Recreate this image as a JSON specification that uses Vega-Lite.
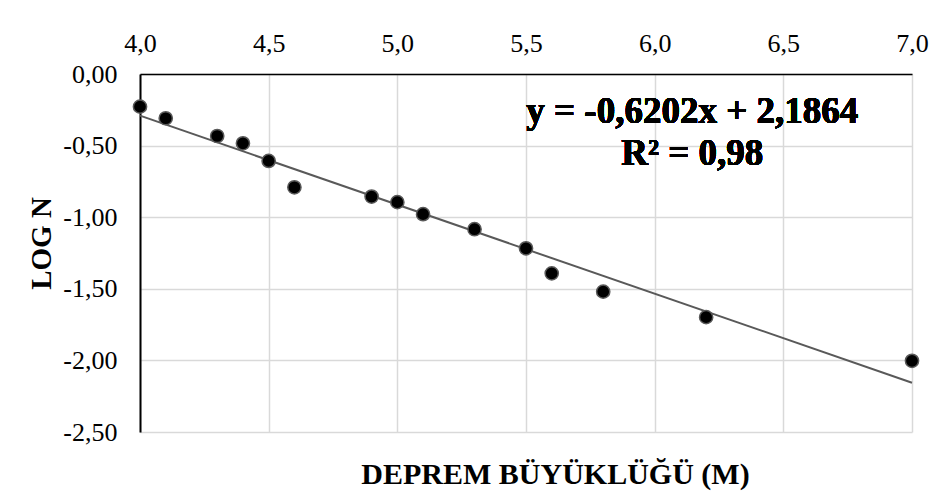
{
  "$schema": "https://vega.github.io/schema/vega-lite/v6.json",
  "width": 772,
  "height": 358,
  "autosize": {"type": "none"},
  "padding": {"left": 140, "top": 74, "right": 25, "bottom": 63},
  "background": "white",
  "config": {
    "locale": {"number": {"decimal": ",", "thousands": ".", "grouping": [3], "currency": ["", ""], "minus": "-"}},
    "view": {"stroke": null},
    "font": "Liberation Serif"
  },
  "data": {
    "values": [
      {"M": 4.0, "logN": -0.228},
      {"M": 4.1, "logN": -0.309},
      {"M": 4.3, "logN": -0.433},
      {"M": 4.4, "logN": -0.484},
      {"M": 4.5, "logN": -0.607},
      {"M": 4.6, "logN": -0.791},
      {"M": 4.9, "logN": -0.856},
      {"M": 5.0, "logN": -0.895},
      {"M": 5.1, "logN": -0.979},
      {"M": 5.3, "logN": -1.084},
      {"M": 5.5, "logN": -1.217},
      {"M": 5.6, "logN": -1.392},
      {"M": 5.8, "logN": -1.52},
      {"M": 6.2, "logN": -1.698},
      {"M": 7.0, "logN": -2.003}
    ]
  },
  "encoding": {
    "x": {
      "field": "M", "type": "quantitative",
      "scale": {"domain": [4, 7], "nice": false, "zero": false},
      "axis": {
        "orient": "top",
        "values": [4, 4.5, 5, 5.5, 6, 6.5, 7],
        "format": ".1f",
        "title": "DEPREM BÜYÜKLÜĞÜ (M)",
        "titleFont": "Liberation Serif",
        "titleFontSize": 30,
        "titleFontWeight": "bold",
        "titleColor": "black",
        "titleX": 415,
        "titleY": 409,
        "titleAlign": "center",
        "titleBaseline": "alphabetic",
        "titleAngle": 0,
        "labelFont": "Liberation Serif",
        "labelFontSize": 26,
        "labelColor": "black",
        "labelBaseline": "alphabetic",
        "labelPadding": 23,
        "labelFlush": false,
        "labelOverlap": false,
        "ticks": false,
        "tickSize": 0,
        "domainColor": "black",
        "domainWidth": 1.5,
        "grid": true,
        "gridColor": "#d9d9d9",
        "gridWidth": 1.5
      }
    },
    "y": {
      "field": "logN", "type": "quantitative",
      "scale": {"domain": [-2.5, 0], "nice": false, "zero": false},
      "axis": {
        "values": [0, -0.5, -1, -1.5, -2, -2.5],
        "format": ".2f",
        "title": "LOG N",
        "titleFont": "Liberation Serif",
        "titleFontSize": 29,
        "titleFontWeight": "bold",
        "titleColor": "black",
        "titleX": -99,
        "titleY": 169,
        "titleAngle": -90,
        "titleAlign": "center",
        "titleBaseline": "middle",
        "labelFont": "Liberation Serif",
        "labelFontSize": 26,
        "labelColor": "black",
        "labelBaseline": "middle",
        "labelPadding": 23,
        "labelFlush": false,
        "labelOverlap": false,
        "ticks": false,
        "tickSize": 0,
        "domainColor": "black",
        "domainWidth": 2,
        "grid": true,
        "gridColor": "#d9d9d9",
        "gridWidth": 1.5
      }
    }
  },
  "layer": [
    {
      "transform": [{"regression": "logN", "on": "M"}],
      "mark": {"type": "line", "color": "#595959", "strokeWidth": 2}
    },
    {
      "mark": {"type": "circle", "fill": "black", "stroke": "#595959", "strokeWidth": 1.5, "size": 175, "opacity": 1}
    },
    {
      "mark": {"type": "text", "font": "Liberation Serif", "fontSize": 37, "fontWeight": "bold", "align": "center", "baseline": "alphabetic", "fill": "black", "strokeWidth": 0},
      "encoding": {
        "x": {"datum": 6.146},
        "y": {"datum": -0.344},
        "text": {"value": "y = -0,6202x + 2,1864"}
      }
    },
    {
      "mark": {"type": "text", "font": "Liberation Serif", "fontSize": 37, "fontWeight": "bold", "align": "center", "baseline": "alphabetic", "fill": "black", "strokeWidth": 0},
      "encoding": {
        "x": {"datum": 6.146},
        "y": {"datum": -0.635},
        "text": {"value": "R² = 0,98"}
      }
    }
  ]
}
